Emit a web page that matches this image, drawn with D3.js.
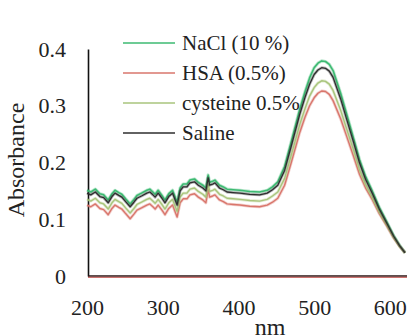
<!DOCTYPE html>
<html>
<head>
<meta charset="utf-8">
<script src="https://d3js.org/d3.v7.min.js"></script>
<style>
  body { margin: 0; background: #fff; }
</style>
</head>
<body>
<div id="chart"></div>
<script>
  // wavelength (nm)
  var nm = [200,205,211,217,222,228,233,237,242,246,
            251,257,262,266,272,279,283,287,290,294,
            299,303,308,313,319,323,327,332,336,342,
            347,353,357,360,362,366,369,375,380,385,
            393,402,415,428,438,445,452,461,470,481,
            488,494,500,505,510,515,520,525,535,543,
            552,560,568,577,586,596,605,613,620];

  var nacl = [0.151,0.148,0.153,0.145,0.143,0.134,0.145,0.151,0.147,0.144,
              0.136,0.127,0.135,0.142,0.146,0.151,0.153,0.148,0.144,0.151,
              0.142,0.134,0.145,0.151,0.130,0.155,0.162,0.162,0.169,0.171,
              0.165,0.160,0.155,0.178,0.165,0.167,0.169,0.160,0.157,0.153,
              0.152,0.151,0.149,0.148,0.151,0.157,0.166,0.193,0.238,0.294,
              0.325,0.349,0.367,0.375,0.379,0.378,0.373,0.362,0.322,0.285,
              0.243,0.205,0.175,0.149,0.121,0.095,0.071,0.054,0.041];

  var hsa = [0.125,0.122,0.127,0.119,0.117,0.108,0.119,0.125,0.121,0.118,
             0.110,0.101,0.109,0.116,0.120,0.125,0.127,0.122,0.118,0.125,
             0.116,0.108,0.119,0.125,0.104,0.129,0.136,0.136,0.143,0.145,
             0.139,0.134,0.129,0.152,0.139,0.141,0.143,0.134,0.131,0.127,
             0.126,0.125,0.123,0.122,0.125,0.130,0.137,0.160,0.201,0.253,
             0.280,0.300,0.314,0.322,0.326,0.325,0.320,0.309,0.277,0.246,
             0.211,0.179,0.155,0.134,0.110,0.088,0.067,0.052,0.041];

  var cysteine = [0.135,0.132,0.137,0.129,0.127,0.118,0.129,0.135,0.131,0.128,
                  0.120,0.111,0.119,0.126,0.130,0.135,0.137,0.132,0.128,0.135,
                  0.126,0.118,0.129,0.135,0.114,0.139,0.146,0.146,0.153,0.155,
                  0.149,0.144,0.139,0.162,0.149,0.151,0.153,0.144,0.141,0.137,
                  0.136,0.135,0.133,0.132,0.135,0.141,0.148,0.172,0.214,0.267,
                  0.295,0.317,0.332,0.340,0.344,0.343,0.338,0.327,0.292,0.259,
                  0.222,0.187,0.161,0.138,0.113,0.090,0.068,0.052,0.041];

  var saline = [0.146,0.143,0.148,0.140,0.138,0.129,0.140,0.146,0.142,0.139,
                0.131,0.122,0.130,0.137,0.141,0.146,0.148,0.143,0.139,0.146,
                0.137,0.129,0.140,0.146,0.125,0.150,0.157,0.157,0.164,0.166,
                0.160,0.155,0.150,0.173,0.160,0.162,0.164,0.155,0.152,0.148,
                0.147,0.146,0.144,0.143,0.146,0.152,0.160,0.186,0.230,0.285,
                0.315,0.338,0.355,0.363,0.367,0.366,0.361,0.350,0.312,0.276,
                0.236,0.199,0.170,0.145,0.118,0.093,0.070,0.053,0.041];

  var seriesNames = ["NaCl (10 %)", "HSA (0.5%)", "cysteine 0.5%", "Saline"];
  var xTicks = [200, 300, 400, 500, 600];
  var yTicks = [0, 0.1, 0.2, 0.3, 0.4];

  var series = [
    {name: seriesNames[0], values: nacl, color: "#3dba72", w: 1.6},
    {name: seriesNames[1], values: hsa, color: "#d9766c", w: 1.4},
    {name: seriesNames[2], values: cysteine, color: "#a9c57c", w: 1.4},
    {name: seriesNames[3], values: saline, color: "#2e2e2e", w: 1.3}
  ];

  var width = 407, height = 336;
  var serif = "'Liberation Serif', 'Times New Roman', serif";

  var svg = d3.select("#chart").append("svg")
      .attr("width", width)
      .attr("height", height);

  var x = d3.scaleLinear().domain([200, 620]).range([87, 405]);
  var y = d3.scaleLinear().domain([0, 0.4]).range([276, 49]);

  // y axis
  var yAxis = svg.append("g")
      .attr("transform", "translate(88,0)")
      .call(d3.axisLeft(y).tickValues(yTicks).tickSize(0).tickPadding(22)
        .tickFormat(function(d) { return d === 0 ? "0" : d3.format(".1f")(d); }));
  yAxis.select(".domain").attr("stroke", "#111").attr("stroke-width", 1.6);
  yAxis.selectAll("text").style("font-size", "22px")
      .style("font-family", serif).attr("fill", "#222");

  // x axis
  var xAxis = svg.append("g")
      .attr("transform", "translate(0,276)")
      .call(d3.axisBottom(x).tickValues(xTicks).tickSize(0).tickPadding(23));
  xAxis.select(".domain").remove();
  xAxis.selectAll("text").style("font-size", "22px")
      .style("font-family", serif).attr("fill", "#222");

  svg.append("line")
      .attr("x1", 88).attr("x2", width)
      .attr("y1", y(0)).attr("y2", y(0))
      .attr("stroke", "#2a1414").attr("stroke-width", 1.6);
  svg.append("line")
      .attr("x1", 88).attr("x2", width)
      .attr("y1", y(0) + 1.3).attr("y2", y(0) + 1.3)
      .attr("stroke", "#c0504d").attr("stroke-width", 1);

  // curves
  var line = d3.line()
      .x(function(d, i) { return x(nm[i]); })
      .y(function(d) { return y(d); });

  series.forEach(function(s) {
    svg.append("path")
      .datum(s.values)
      .attr("d", line)
      .attr("fill", "none")
      .attr("stroke", s.color)
      .attr("stroke-opacity", 0.35)
      .attr("stroke-linejoin", "round")
      .attr("stroke-width", s.w + 1.6);
    svg.append("path")
      .datum(s.values)
      .attr("d", line)
      .attr("fill", "none")
      .attr("stroke", s.color)
      .attr("stroke-linejoin", "round")
      .attr("stroke-width", s.w);
  });

  // legend
  var legend = svg.append("g");
  series.forEach(function(s, i) {
    var ly = 43 + i * 30;
    legend.append("line")
      .attr("x1", 123).attr("x2", 175)
      .attr("y1", ly).attr("y2", ly)
      .attr("stroke", s.color).attr("stroke-width", 1.6);
    legend.append("text")
      .attr("x", 182).attr("y", ly + 7)
      .style("font-size", "21px")
      .style("font-family", serif)
      .attr("fill", "#222")
      .text(s.name);
  });

  // axis titles
  svg.append("text")
      .attr("transform", "translate(24,160) rotate(-90)")
      .attr("text-anchor", "middle")
      .style("font-size", "24px")
      .style("font-family", serif)
      .attr("fill", "#222")
      .text("Absorbance");

  svg.append("text")
      .attr("x", 270).attr("y", 335)
      .attr("text-anchor", "middle")
      .style("font-size", "24px")
      .style("font-family", serif)
      .attr("fill", "#222")
      .text("nm");
</script>
</body>
</html>
